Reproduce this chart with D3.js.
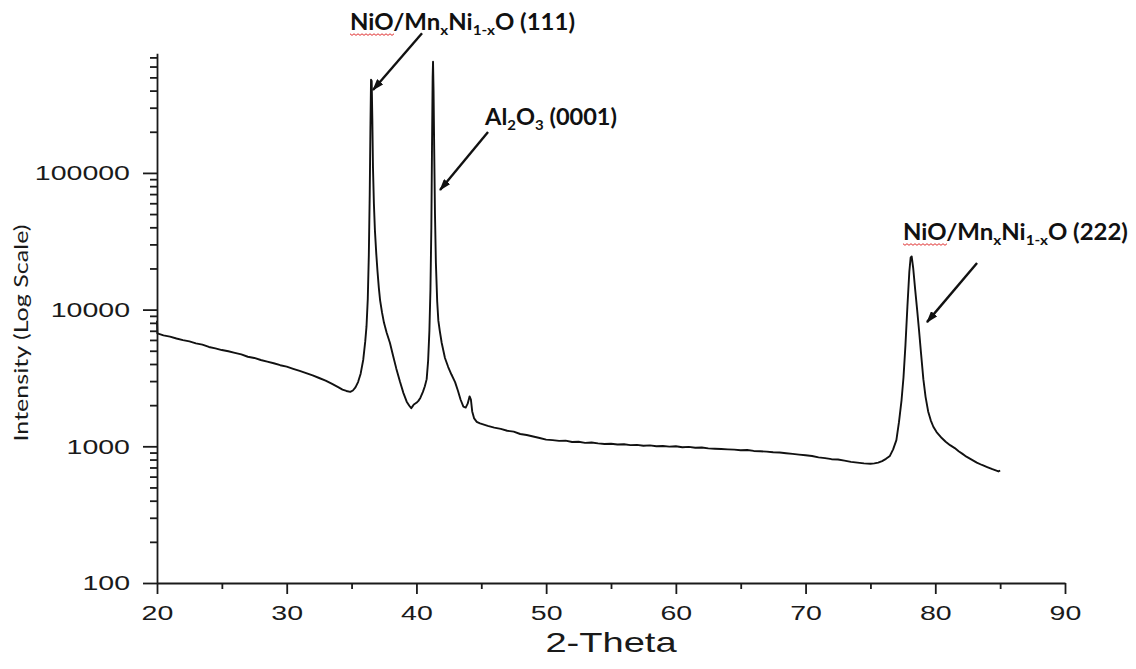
<!DOCTYPE html>
<html>
<head>
<meta charset="utf-8">
<script src="https://cdn.jsdelivr.net/npm/d3@7"></script>
<style>
  body { margin: 0; background: #fff; }
  svg { display: block; }
  .axis path, .axis line { stroke: #1a1a1a; stroke-width: 1.8; }
  .axis text { font-family: "Liberation Sans", Arial, sans-serif; font-size: 21px; fill: #1a1a1a; }
  .trace { fill: none; stroke: #111; stroke-width: 1.9; stroke-linejoin: round; }
  .note { font-family: Lato, "Open Sans", sans-serif; font-weight: bold; font-size: 22px; fill: #111; }
  .title { font-family: "Liberation Sans", Arial, sans-serif; fill: #1a1a1a; }
</style>
</head>
<body>
<svg id="chart"></svg>
<script>
// tick labels
const xTicks = [20, 30, 40, 50, 60, 70, 80, 90];
const xMinorTicks = [25, 35, 45, 55, 65, 75, 85];
const yTicks = [100, 1000, 10000, 100000];
const yMinorSteps = [2, 3, 4, 5, 6, 7, 8, 9];

// XRD scan, [2-theta, counts]
const scan = [
  [20.00, 8300], [20.03, 6700], [20.5, 6480], [21, 6350], [21.5, 6150], [22, 5980],
  [22.5, 5850], [23, 5660], [23.5, 5540], [24, 5330], [24.5, 5210], [25, 5060],
  [25.5, 4960], [26, 4830], [26.5, 4700], [27, 4520], [27.5, 4430], [28, 4280],
  [28.5, 4160], [29, 4050], [29.5, 3920], [30, 3830], [30.5, 3690], [31, 3560],
  [31.5, 3430], [32, 3300], [32.5, 3160], [33, 3020], [33.5, 2860], [34, 2700],
  [34.3, 2600], [34.6, 2540], [34.9, 2500], [35.1, 2560], [35.3, 2700], [35.5, 2950],
  [35.7, 3400], [35.9, 4300], [36.05, 5800], [36.15, 7500], [36.25, 12000], [36.33, 25000],
  [36.4, 70000], [36.45, 200000], [36.5, 480000], [36.55, 470000], [36.6, 250000],
  [36.65, 110000], [36.72, 60000], [36.8, 38000], [36.9, 26000], [37.0, 19000],
  [37.1, 14500], [37.2, 11700], [37.35, 9500], [37.5, 8000], [37.7, 6800], [37.96, 5700],
  [38.2, 4600], [38.45, 3700], [38.74, 2950], [39.0, 2450], [39.25, 2120], [39.45, 1980],
  [39.6, 1900], [39.7, 1960], [39.8, 2020], [40.0, 2080], [40.15, 2150], [40.3, 2260],
  [40.5, 2500], [40.65, 2750], [40.79, 3100], [40.9, 4200], [41.0, 7000], [41.08, 14000],
  [41.15, 40000], [41.2, 150000], [41.25, 500000], [41.28, 650000], [41.32, 400000],
  [41.37, 150000], [41.43, 50000], [41.5, 22000], [41.6, 11500], [41.69, 8300],
  [41.8, 7000], [41.95, 5700], [42.2, 4430], [42.45, 3800], [42.7, 3350], [42.98, 2950],
  [43.2, 2550], [43.4, 2200], [43.62, 1950], [43.8, 1920], [43.95, 2050], [44.1, 2320],
  [44.2, 2200], [44.3, 1800], [44.45, 1600], [44.65, 1510], [44.9, 1470], [45.2, 1440],
  [45.5, 1410], [46.0, 1370], [46.5, 1340], [47.0, 1300], [47.5, 1280], [48.0, 1230],
  [48.5, 1210], [49.0, 1180], [49.5, 1150], [50.0, 1120], [50.5, 1110], [51, 1095],
  [51.5, 1100], [52, 1075], [52.5, 1080], [53, 1060], [53.5, 1065], [54, 1050],
  [54.5, 1040], [55, 1045], [55.5, 1030], [56, 1035], [56.5, 1020], [57, 1025],
  [57.5, 1010], [58, 1015], [58.5, 1000], [59, 1005], [59.5, 995], [60, 1000],
  [60.5, 985], [61, 990], [61.5, 975], [62, 980], [62.5, 965], [63, 960], [63.5, 955],
  [64, 950], [64.5, 945], [65, 935], [65.5, 940], [66, 925], [66.5, 920], [67, 915],
  [67.5, 905], [68, 900], [68.5, 890], [69, 880], [69.5, 870], [70, 860], [70.5, 850],
  [71, 830], [71.5, 820], [72, 805], [72.5, 800], [73, 785], [73.5, 770], [74, 760],
  [74.5, 750], [75, 745], [75.3, 750], [75.6, 760], [75.9, 780], [76.2, 810], [76.5, 850],
  [76.75, 950], [77.0, 1110], [77.2, 1500], [77.4, 2180], [77.55, 3200], [77.7, 5500],
  [77.85, 10500], [78.0, 19000], [78.1, 24000], [78.18, 24500], [78.3, 20000],
  [78.45, 14000], [78.6, 10000], [78.75, 7000], [78.9, 4800], [79.08, 3100], [79.25, 2300],
  [79.45, 1800], [79.65, 1550], [79.85, 1390], [80.1, 1270], [80.5, 1150], [80.8, 1080],
  [81.14, 1020], [81.5, 970], [81.8, 920], [82.1, 880], [82.4, 840], [82.8, 800],
  [83.2, 760], [83.6, 730], [84.0, 705], [84.4, 680], [84.87, 655], [85.0, 665],
];

// peak labels: text pieces, text anchor and arrow ends in data units
const annotations = [
  { parts: [['NiO/Mn'], ['x', 'sub'], ['Ni'], ['1-x', 'sub'], ['O (111)']],
    at: [34.88, 1.109e6], from: [40.43, 1.05e6], to: [36.65, 4.04e5], squiggle: 3 },
  { parts: [['Al'], ['2', 'sub'], ['O'], ['3', 'sub'], [' (0001)']],
    at: [45.29, 2.24e5], from: [45.52, 1.99e5], to: [41.82, 7.5e4], squiggle: 0 },
  { parts: [['NiO/Mn'], ['x', 'sub'], ['Ni'], ['1-x', 'sub'], ['O (222)']],
    at: [77.51, 3.23e4], from: [83.22, 2.19e4], to: [79.36, 8.1e3], squiggle: 3 },
];
const noteWidths = [225, 132, 225];

const width = 1136, height = 669;
const stretch = 1.36; // the source image is stretched sideways

const svg = d3.select('#chart')
  .attr('width', width)
  .attr('height', height);

const x = d3.scaleLinear().domain([20, 90]).range([157, 1065]);
const y = d3.scaleLog().domain([100, 750000]).range([583, 53.3]);

const yMinor = [];
yTicks.forEach((p) => {
  yMinorSteps.forEach((s) => { if (p * s <= 750000) yMinor.push(p * s); });
});

// trace
const line = d3.line()
  .x((d) => x(d[0]))
  .y((d) => y(d[1]));

svg.append('path')
  .datum(scan)
  .attr('class', 'trace')
  .attr('d', line);

// y axis
const yAxis = svg.append('g')
  .attr('class', 'axis')
  .attr('transform', `translate(${x(20)},0)`)
  .call(d3.axisLeft(y).tickValues(yTicks).tickSize(14).tickSizeOuter(0)
    .tickFormat(d3.format('d')));
yAxis.selectAll('.tick text')
  .attr('x', -27 / stretch)
  .attr('transform', `scale(${stretch},1)`);

svg.append('g')
  .attr('class', 'axis')
  .attr('transform', `translate(${x(20)},0)`)
  .call(d3.axisLeft(y).tickValues(yMinor).tickSize(7).tickSizeOuter(0).tickFormat(''))
  .select('.domain').remove();

// x axis
const xAxis = svg.append('g')
  .attr('class', 'axis')
  .attr('transform', `translate(0,${y(100)})`)
  .call(d3.axisBottom(x).tickValues(xTicks).tickSize(11).tickPadding(11).tickSizeOuter(0));
xAxis.selectAll('.tick text')
  .attr('transform', `scale(${stretch},1)`);

svg.append('g')
  .attr('class', 'axis')
  .attr('transform', `translate(0,${y(100)})`)
  .call(d3.axisBottom(x).tickValues(xMinorTicks).tickSize(6).tickSizeOuter(0).tickFormat(''))
  .select('.domain').remove();

// axis titles
svg.append('text')
  .attr('class', 'title')
  .attr('transform', `translate(${(x(20) + x(90)) / 2},652) scale(${stretch},1)`)
  .attr('text-anchor', 'middle')
  .style('font-size', '28px')
  .text('2-Theta');

svg.append('text')
  .attr('transform', 'translate(28,333) rotate(-90)')
  .attr('text-anchor', 'middle')
  .attr('textLength', 217)
  .attr('lengthAdjust', 'spacingAndGlyphs')
  .style('font-family', 'Lato, "Open Sans", sans-serif')
  .style('font-size', '19px')
  .style('fill', '#1a1a1a')
  .text('Intensity (Log Scale)');

// arrowhead
svg.append('defs').append('marker')
  .attr('id', 'head')
  .attr('markerUnits', 'userSpaceOnUse')
  .attr('viewBox', '0 0 12 8')
  .attr('refX', 11)
  .attr('refY', 4)
  .attr('markerWidth', 12)
  .attr('markerHeight', 8)
  .attr('orient', 'auto')
  .append('path')
  .attr('d', 'M0,0 L12,4 L0,8 Z')
  .attr('fill', '#111');

annotations.forEach((a, i) => {
  svg.append('line')
    .attr('x1', x(a.from[0]))
    .attr('y1', y(a.from[1]))
    .attr('x2', x(a.to[0]))
    .attr('y2', y(a.to[1]))
    .attr('stroke', '#111')
    .attr('stroke-width', 2.4)
    .attr('marker-end', 'url(#head)');

  const g = svg.append('g');
  const t = g.append('text').attr('class', 'note');
  let shifted = false;
  a.parts.forEach(([str, kind]) => {
    const span = t.append('tspan').text(str);
    if (kind === 'sub') {
      span.attr('dy', shifted ? 0 : 5).style('font-size', '14px');
      shifted = true;
    } else {
      if (shifted) span.attr('dy', -5);
      shifted = false;
    }
  });
  const natural = t.node().getComputedTextLength();
  const s = noteWidths[i] / natural;
  g.attr('transform', `translate(${x(a.at[0])},${y(a.at[1])}) scale(${s},1)`);

  if (a.squiggle) {
    const w = t.node().getSubStringLength(0, a.squiggle);
    const pts = [];
    for (let k = 0; k <= Math.round(w * s / 2); k++) {
      pts.push([x(a.at[0]) + k * 2, y(a.at[1]) + 4 + (k % 2 ? 1.3 : -0.3)]);
    }
    svg.append('path')
      .attr('d', d3.line()(pts))
      .attr('fill', 'none')
      .attr('stroke', '#e03030')
      .attr('stroke-width', 1);
  }
});
</script>
</body>
</html>
